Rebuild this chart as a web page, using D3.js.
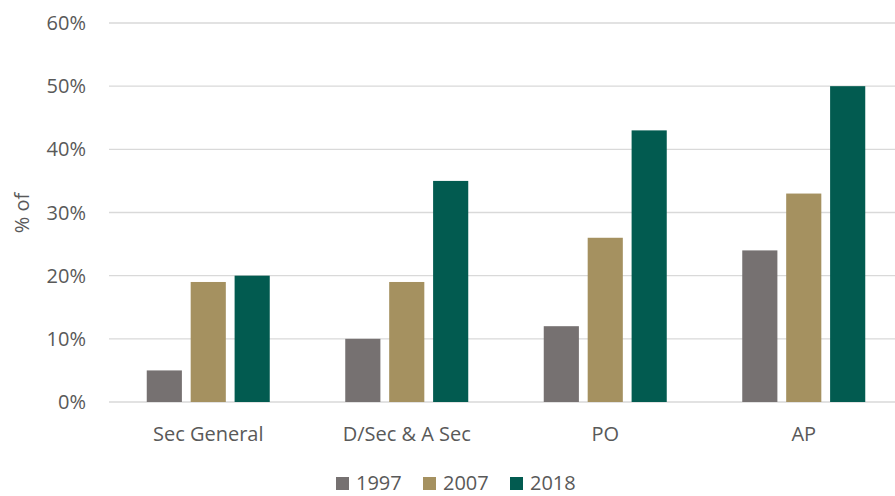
<!doctype html>
<html>
<head>
<meta charset="UTF-8">
<script src="https://cdn.jsdelivr.net/npm/d3@7"></script>
<style>
  body { margin: 0; background: #fff; }
  svg { display: block; font-family: "Open Sans", Lato, sans-serif; }
</style>
</head>
<body>
<script>
var categories = ['Sec General', 'D/Sec & A Sec', 'PO', 'AP'];
var years = ['1997', '2007', '2018'];
var v1997 = [5, 10, 12, 24];
var v2007 = [19, 19, 26, 33];
var v2018 = [20, 35, 43, 50];
var yTicks = [0, 10, 20, 30, 40, 50, 60];
var colors = ['#767171', '#a59160', '#025b50'];

var width = 895, height = 496;
var fontSize = 20;
var series = [v1997, v2007, v2018];

var svg = d3.select('body').append('svg')
    .attr('width', width)
    .attr('height', height);

var x = d3.scaleBand().domain(categories).range([109, 903]);
var xi = d3.scaleBand().domain(years).range([0, 123]).paddingInner(0.2);
var y = d3.scaleLinear().domain([0, 60]).range([402, 23]);

// grid
svg.append('g').selectAll('line')
    .data(yTicks)
    .enter().append('line')
    .attr('x1', 109).attr('x2', width)
    .attr('y1', function(d) { return y(d); })
    .attr('y2', function(d) { return y(d); })
    .attr('stroke', '#d9d9d9')
    .attr('stroke-width', 1.3);

// y tick labels
svg.append('g').selectAll('text')
    .data(yTicks)
    .enter().append('text')
    .attr('x', 86)
    .attr('y', function(d) { return y(d); })
    .attr('dy', '0.35em')
    .attr('text-anchor', 'end')
    .attr('fill', '#595959')
    .attr('font-size', fontSize)
    .text(function(d) { return d + '%'; });

// bars
var groups = svg.append('g').selectAll('g')
    .data(categories)
    .enter().append('g')
    .attr('transform', function(d) { return 'translate(' + (x(d) + (x.bandwidth() - 123) / 2) + ',0)'; });

groups.selectAll('rect')
    .data(function(d, i) { return series.map(function(s, j) { return {year: years[j], v: s[i], j: j}; }); })
    .enter().append('rect')
    .attr('x', function(d) { return xi(d.year); })
    .attr('width', xi.bandwidth())
    .attr('y', function(d) { return y(d.v); })
    .attr('height', function(d) { return y(0) - y(d.v); })
    .attr('fill', function(d) { return colors[d.j]; });

// x labels
svg.append('g').selectAll('text')
    .data(categories)
    .enter().append('text')
    .attr('x', function(d) { return x(d) + x.bandwidth() / 2; })
    .attr('y', 441)
    .attr('text-anchor', 'middle')
    .attr('fill', '#595959')
    .attr('font-size', fontSize)
    .text(function(d) { return d; });

// y axis title
svg.append('text')
    .attr('transform', 'translate(29,213) rotate(-90)')
    .attr('text-anchor', 'middle')
    .attr('fill', '#595959')
    .attr('font-size', fontSize)
    .text('% of');

// legend
var legendX = [336, 423, 510];
var legend = svg.append('g').selectAll('g')
    .data(years)
    .enter().append('g')
    .attr('transform', function(d, i) { return 'translate(' + legendX[i] + ',477)'; });
legend.append('rect')
    .attr('width', 13).attr('height', 13)
    .attr('fill', function(d, i) { return colors[i]; });
legend.append('text')
    .attr('x', 20).attr('y', 13)
    .attr('fill', '#595959')
    .attr('font-size', fontSize)
    .text(function(d) { return d; });
</script>
</body>
</html>
